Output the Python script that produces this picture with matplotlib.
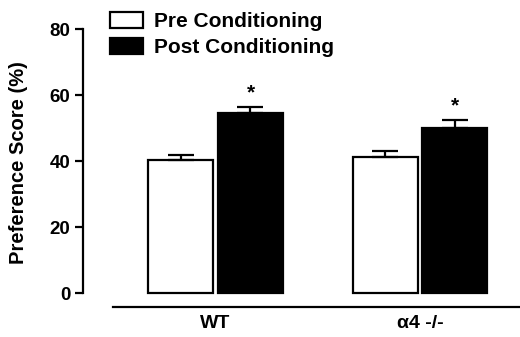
import matplotlib.pyplot as plt
import numpy as np

plt.rcParams['font.family'] = ['Liberation Sans', 'DejaVu Sans']

groups = ['WT', '\u03b14 -/-']
pre = [40.3, 41.1]
pre_err = [1.5, 1.8]
post = [54.6, 50.1]
post_err = [1.7, 2.2]
stars = ['*', '*']

fig = plt.figure(figsize=(5.2, 3.37), dpi=100)
ax = fig.add_axes([83/520, 1-307/337, 1-83/520, (307-29)/337])

x = np.arange(len(groups))
w = 0.318
off = 0.171
ax.bar(x - off, pre, w, color='white', edgecolor='black', linewidth=1.6,
       yerr=[np.zeros(2), pre_err], capsize=9.5,
       error_kw=dict(elinewidth=1.6, capthick=1.6), label='Pre Conditioning')
ax.bar(x + off, post, w, color='black', edgecolor='black', linewidth=1.6,
       yerr=[np.zeros(2), post_err], capsize=9.5,
       error_kw=dict(elinewidth=1.6, capthick=1.6), label='Post Conditioning')

for i in range(len(groups)):
    ax.text(x[i] + off, post[i] + post_err[i] + 1.5, stars[i], ha='center', va='bottom',
            fontsize=15, fontweight='bold')

ax.set_xlim(-0.648, 1.489)
ax.set_ylim(-4.24, 80)
ax.set_yticks([0, 20, 40, 60, 80])
ax.spines['top'].set_visible(False)
ax.spines['right'].set_visible(False)
ax.spines['left'].set_bounds(0, 80)
ax.spines['bottom'].set_bounds(-0.501, 1.489)
ax.spines['left'].set_linewidth(1.6)
ax.spines['bottom'].set_linewidth(1.6)
ax.tick_params(axis='y', length=6, width=1.6, labelsize=13.5, pad=3)
ax.tick_params(axis='x', length=0, labelsize=14, pad=6)
for t in ax.get_yticklabels():
    t.set_fontweight('bold')
ax.set_xticks(x)
ax.set_xticklabels(groups, fontweight='bold')

fig.text(19/520, 1-163/337, 'Preference Score (%)', rotation=90, ha='center', va='center',
         fontsize=14.5, fontweight='bold')

ax.legend(loc='upper left', bbox_to_anchor=(110/520, 1-12/337), bbox_transform=fig.transFigure,
          frameon=False, prop={'weight': 'bold', 'size': 15},
          handlelength=1.6, handleheight=0.8, handletextpad=0.5, labelspacing=0.32,
          borderaxespad=0, borderpad=0)

fig.savefig('out.png', dpi=100)
